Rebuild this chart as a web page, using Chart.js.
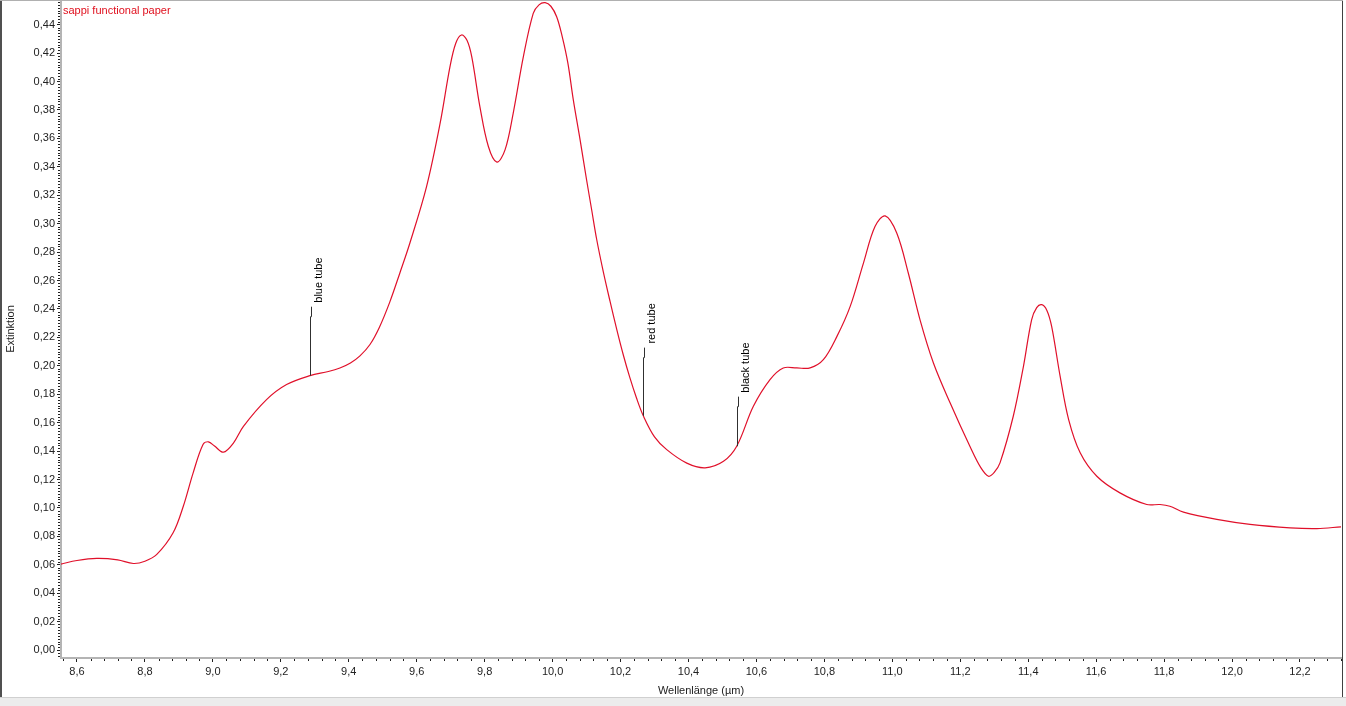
<!DOCTYPE html>
<html>
<head>
<meta charset="utf-8">
<script src="https://cdn.jsdelivr.net/npm/chart.js@4.4.1/dist/chart.umd.min.js"></script>
<style>
  html, body { margin:0; padding:0; background:#fff; width:1346px; height:706px; overflow:hidden; }
  #wrap { position:absolute; left:0; top:0; width:1346px; height:706px; }
  canvas { display:block; }
  .frameL { position:absolute; left:0; top:0; width:2px; height:698px; background:#505050; }
  .frameR { position:absolute; left:1342px; top:0; width:1px; height:698px; background:#404040; }
  .frameT { position:absolute; left:0; top:0; width:1343px; height:1px; background:#b0b0b0; }
  .frameB { position:absolute; left:0; top:697px; width:1346px; height:9px; background:#ececec; border-top:1px solid #d0d0d0; }
</style>
</head>
<body>
<div id="wrap"><canvas id="c" width="1346" height="706"></canvas></div>
<div class="frameL"></div><div class="frameR"></div><div class="frameT"></div><div class="frameB"></div>
<script>
// Wavelength (µm)
const wavelength = [
  8.553, 8.60, 8.658, 8.72, 8.766, 8.80, 8.835, 8.883, 8.913, 8.942, 8.971, 8.987, 9.005, 9.031, 9.06,
  9.090, 9.158, 9.217, 9.286, 9.340, 9.374, 9.405, 9.433, 9.4625, 9.490, 9.521, 9.550, 9.580, 9.629, 9.669, 9.698, 9.715, 9.732,
  9.748, 9.762, 9.786, 9.811, 9.836, 9.860, 9.884, 9.914, 9.943, 9.960, 9.978, 9.995, 10.012, 10.028, 10.045,
  10.061, 10.081, 10.100, 10.115, 10.130, 10.149, 10.169, 10.189, 10.208, 10.227, 10.247, 10.267, 10.300, 10.336, 10.395,
  10.449, 10.503, 10.542, 10.591,
  10.640, 10.679, 10.719, 10.758, 10.797, 10.837, 10.876, 10.915, 10.949, 10.979, 11.013, 11.047,
  11.082, 11.121, 11.170, 11.229, 11.260, 11.283, 11.300, 11.317, 11.356, 11.386, 11.410, 11.425,
  11.440, 11.455, 11.469, 11.494, 11.519, 11.553, 11.602, 11.670, 11.749, 11.788, 11.817, 11.857,
  11.955, 12.053, 12.171, 12.250, 12.321
];
// Extinktion
const extinction = [
  0.0605, 0.0630, 0.0645, 0.0635, 0.0609, 0.0625, 0.0673, 0.0825, 0.1012, 0.1247, 0.1446, 0.1465, 0.1435, 0.1392, 0.1455,
  0.1574, 0.1762, 0.1868, 0.1931, 0.1960, 0.1985, 0.2020, 0.2070, 0.2150, 0.2270, 0.2450, 0.2650, 0.2864, 0.3261, 0.3707, 0.4105, 0.4270, 0.4328,
  0.4290, 0.4175, 0.3824, 0.3543, 0.3433, 0.3519, 0.3777, 0.4175, 0.4480, 0.4540, 0.4555, 0.4530, 0.4456, 0.4320, 0.4130,
  0.3871, 0.3590, 0.3309, 0.3098, 0.2887, 0.2665, 0.2455, 0.2255, 0.2078, 0.1920, 0.1773, 0.1648, 0.1500, 0.1410, 0.1315,
  0.1282, 0.1328, 0.1434, 0.1715,
  0.1903, 0.1985, 0.1985, 0.1985, 0.2043, 0.2207, 0.2418, 0.2723, 0.2980, 0.3055, 0.2934, 0.2653,
  0.2320, 0.2020, 0.1740, 0.1430, 0.1285, 0.1223, 0.1250, 0.1317, 0.1645, 0.1996, 0.2324, 0.2410,
  0.2430, 0.2390, 0.2277, 0.1926, 0.1622, 0.1388, 0.1223, 0.1106, 0.1024, 0.1024, 0.1012, 0.0970,
  0.0919, 0.0884, 0.0860, 0.0855, 0.0867
];
// Annotations
const annLabels = ['blue tube', 'red tube', 'black tube'];
const annX      = [9.286, 10.266, 10.542];
const annYBase  = [0.1931, 0.1648, 0.1434];
const annYTop   = [0.2416, 0.2128, 0.1783];

const seriesName = 'sappi functional paper';
const xTitle = 'Wellenlänge (µm)';
const yTitle = 'Extinktion';

const xMin = 8.553, xMax = 12.3207, xStep = 0.2, xMinor = 0.04;
const yMin = -0.0056, yMax = 0.4574, yStep = 0.02, yMinor = 0.002;

const FONT = '"Liberation Sans", Arial, sans-serif';

const fmt = (v, d) => v.toFixed(d).replace('.', ',');

const minorTicks = {
  id: 'minorTicks',
  afterDraw(chart) {
    const ctx = chart.ctx, xs = chart.scales.x, ys = chart.scales.y;
    const ca = chart.chartArea;
    ctx.save();
    ctx.fillStyle = '#202020';
    for (let v = Math.ceil(xMin / xMinor) * xMinor; v <= xMax; v += xMinor) {
      const r = Math.round(v / xStep * 1000) / 1000;
      if (Math.abs(r - Math.round(r)) < 1e-6) continue;
      const px = Math.round(xs.getPixelForValue(v));
      ctx.fillRect(px, ca.bottom + 1, 1, 2);
    }
    for (let v = Math.ceil(yMin / yMinor) * yMinor; v <= yMax; v += yMinor) {
      const r = Math.round(v / yStep * 1000) / 1000;
      if (Math.abs(r - Math.round(r)) < 1e-6) continue;
      const py = Math.round(ys.getPixelForValue(v));
      ctx.fillRect(ca.left - 3, py, 2, 1);
    }
    ctx.restore();
  }
};

const annotations = {
  id: 'annotations',
  afterDatasetsDraw(chart) {
    const ctx = chart.ctx, xs = chart.scales.x, ys = chart.scales.y;
    ctx.save();
    ctx.strokeStyle = '#303030';
    ctx.lineWidth = 1;
    ctx.fillStyle = '#000';
    ctx.font = '11px ' + FONT;
    for (let i = 0; i < annLabels.length; i++) {
      const px = Math.round(xs.getPixelForValue(annX[i])) + 0.5;
      const pb = ys.getPixelForValue(annYBase[i]);
      const pt = ys.getPixelForValue(annYTop[i]);
      ctx.beginPath();
      ctx.moveTo(px, pb);
      ctx.lineTo(px, pt + 10);
      ctx.lineTo(px + 1, pt + 10);
      ctx.lineTo(px + 1, pt);
      ctx.stroke();
      ctx.save();
      ctx.translate(px + 8, pt - 4);
      ctx.rotate(-Math.PI / 2);
      ctx.textAlign = 'left';
      ctx.textBaseline = 'middle';
      ctx.fillText(annLabels[i], 0, 0);
      ctx.restore();
    }
    ctx.fillStyle = '#e0101e';
    ctx.font = '11px ' + FONT;
    ctx.textAlign = 'left';
    ctx.textBaseline = 'middle';
    ctx.fillText(seriesName, chart.chartArea.left + 2, chart.chartArea.top + 11);
    ctx.restore();
  }
};

const points = wavelength.map((x, i) => ({ x, y: extinction[i] }));

new Chart(document.getElementById('c'), {
  type: 'line',
  data: {
    datasets: [{
      label: seriesName,
      data: points,
      borderColor: '#e0102a',
      borderWidth: 1.2,
      pointRadius: 0,
      fill: false,
      tension: 0.35
    }]
  },
  options: {
    responsive: false,
    animation: false,
    devicePixelRatio: 1,
    layout: { padding: { top: 0, right: 5, bottom: 8, left: 0 } },
    plugins: { legend: { display: false }, tooltip: { enabled: false } },
    scales: {
      x: {
        type: 'linear',
        min: xMin, max: xMax,
        afterBuildTicks(scale) {
          const t = [];
          for (let v = 8.6; v <= xMax + 1e-9; v += xStep) t.push({ value: Math.round(v * 100) / 100 });
          scale.ticks = t;
        },
        afterFit(scale) { scale.height = 40; scale.paddingLeft = 0; scale.paddingRight = 0; },
        ticks: {
          callback: v => fmt(v, 1),
          color: '#222', font: { family: FONT, size: 11 }, padding: 3, maxRotation: 0, autoSkip: false
        },
        grid: { display: true, drawOnChartArea: false, drawTicks: true, tickLength: 4, tickColor: '#202020', tickWidth: 1 },
        border: { display: true, color: '#b4b4b4', width: 2 },
        title: { display: true, text: xTitle, color: '#222', font: { family: FONT, size: 11 }, padding: { top: 0, bottom: 0 } }
      },
      y: {
        type: 'linear',
        min: yMin, max: yMax,
        afterBuildTicks(scale) {
          const t = [];
          for (let v = 0; v <= yMax + 1e-9; v += yStep) t.push({ value: Math.round(v * 1000) / 1000 });
          scale.ticks = t;
        },
        afterFit(scale) { scale.width = 61; scale.paddingTop = 0; scale.paddingBottom = 0; },
        ticks: {
          callback: v => fmt(v, 2),
          color: '#222', font: { family: FONT, size: 11 }, padding: 2, autoSkip: false
        },
        grid: { display: true, drawOnChartArea: false, drawTicks: true, tickLength: 4, tickColor: '#202020', tickWidth: 1 },
        border: { display: true, color: '#b4b4b4', width: 2 },
        title: { display: true, text: yTitle, color: '#222', font: { family: FONT, size: 11 }, padding: { top: 4, bottom: 0 } }
      }
    }
  },
  plugins: [minorTicks, annotations]
});
</script>
</body>
</html>
